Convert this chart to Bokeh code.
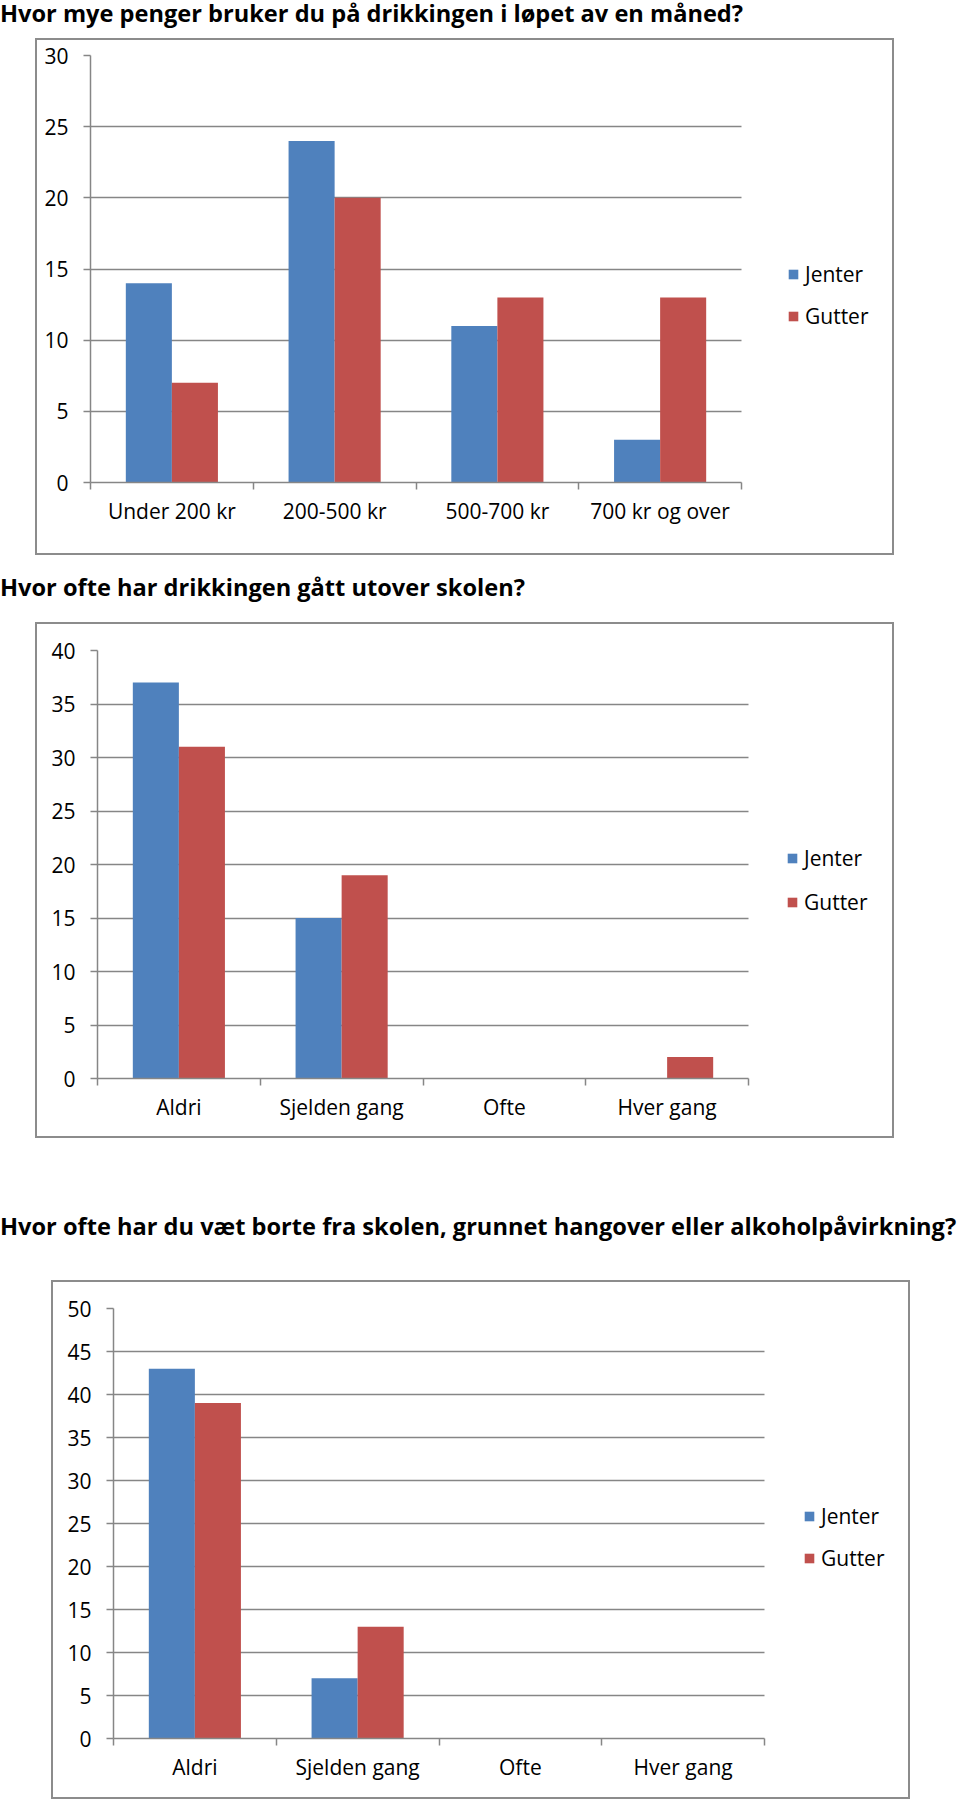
from bokeh.plotting import figure
from bokeh.models import (Range1d, LinearAxis, FixedTicker,
                          Legend, LegendItem, Div, ColumnDataSource)
from bokeh.layouts import column
from bokeh.transform import dodge
from bokeh.embed import file_html
from bokeh.resources import INLINE

# ---------------- data ----------------
title1 = "Hvor mye penger bruker du på drikkingen i løpet av en måned?"
cats1 = ["Under 200 kr", "200-500 kr", "500-700 kr", "700 kr og over"]
jenter1 = [14, 24, 11, 3]
gutter1 = [7, 20, 13, 13]
yticks1 = [0, 5, 10, 15, 20, 25, 30]

title2 = "Hvor ofte har drikkingen gått utover skolen?"
cats2 = ["Aldri", "Sjelden gang", "Ofte", "Hver gang"]
jenter2 = [37, 15, 0, 0]
gutter2 = [31, 19, 0, 2]
yticks2 = [0, 5, 10, 15, 20, 25, 30, 35, 40]

title3 = "Hvor ofte har du væt borte fra skolen, grunnet hangover eller alkoholpåvirkning?"
cats3 = ["Aldri", "Sjelden gang", "Ofte", "Hver gang"]
jenter3 = [43, 7, 0, 0]
gutter3 = [39, 13, 0, 0]
yticks3 = [0, 5, 10, 15, 20, 25, 30, 35, 40, 45, 50]

series = ["Jenter", "Gutter"]

# ---------------- style ----------------
BLUE = "#4F81BD"
RED = "#C0504D"
GRID = "#868686"
BOX = "#8c8c8c"
FONT = "Open Sans"
LABEL_SIZE = "21px"
TITLE_SIZE = "23.6px"
BAR_W = 0.283
PLOT_W = 651      # pixel width of the category area
LEFT_PANEL = 66   # room reserved for the y axis inside each figure
BOX_W = 855


def make_title(text, top_margin):
    return Div(
        text='<span style="font-family: \'Open Sans\'; font-weight: 700; font-size: ' + TITLE_SIZE +
             '; line-height: 27px; color: #000; white-space: nowrap;">' + text + '</span>',
        width=960, height=27, margin=(top_margin, 0, 0, 0),
        styles={"font-family": "'Open Sans'", "font-weight": "700", "font-size": TITLE_SIZE,
                "line-height": "27px", "white-space": "nowrap", "color": "#000"},
    )


def make_chart(cats, jenter, gutter, yticks, box_left, frame_left, box_h, bt, bb, top_margin,
               leg_loc, leg_spacing):
    n = len(cats)
    br = 2
    shift = box_left - (frame_left - LEFT_PANEL)
    w = BOX_W + shift
    frame_w = BOX_W - LEFT_PANEL - br   # the figure is held to the box width by its wrapper
    x_end = n * frame_w / PLOT_W
    centers = [i + 0.5 for i in range(n)]
    edges = list(range(n + 1))
    src = ColumnDataSource(dict(x=centers, cat=cats, Jenter=jenter, Gutter=gutter))
    p = figure(x_range=Range1d(0, x_end), y_range=Range1d(0, yticks[-1]),
               width=w, height=box_h, output_backend="svg", toolbar_location=None,
               x_axis_location=None, y_axis_location=None,
               min_border_left=LEFT_PANEL, min_border_right=br,
               min_border_top=bt, min_border_bottom=bb,
               margin=(0, 0, 0, -shift), background_fill_color="white")
    p.border_fill_alpha = 0
    p.outline_line_color = None

    # grid (horizontal lines limited to the category area)
    p.xgrid.visible = False
    grid_ok = True
    try:
        p.ygrid.cross_bounds = (0, n)
    except Exception:
        grid_ok = False
    if grid_ok:
        p.ygrid.ticker = FixedTicker(ticks=yticks)
        p.ygrid.grid_line_color = GRID
        p.ygrid.grid_line_width = 1.5
    else:
        p.ygrid.visible = False
        p.segment(x0=[0] * len(yticks), x1=[n] * len(yticks), y0=yticks, y1=yticks,
                  line_color=GRID, line_width=1.5)

    # y axis
    yaxis = LinearAxis(ticker=FixedTicker(ticks=yticks))
    yaxis.axis_line_color = GRID
    yaxis.axis_line_width = 1.5
    yaxis.major_tick_line_color = GRID
    yaxis.major_tick_line_width = 1.5
    yaxis.major_tick_out = 7
    yaxis.major_tick_in = 0
    yaxis.minor_tick_line_color = None
    yaxis.major_label_standoff = 15
    yaxis.major_label_text_font = FONT
    yaxis.major_label_text_font_size = LABEL_SIZE
    yaxis.major_label_text_color = "black"
    p.add_layout(yaxis, "left")

    # x axis: labels at category centres, tick marks at category boundaries
    xaxis = LinearAxis(ticker=FixedTicker(ticks=centers, minor_ticks=edges),
                       major_label_overrides={c: name for c, name in zip(centers, cats)},
                       bounds=(0, n))
    xaxis.axis_line_color = GRID
    xaxis.axis_line_width = 1.5
    xaxis.major_tick_line_color = None
    xaxis.major_tick_out = 0
    xaxis.major_tick_in = 0
    xaxis.minor_tick_line_color = GRID
    xaxis.minor_tick_line_width = 1.5
    xaxis.minor_tick_out = 7
    xaxis.minor_tick_in = 0
    xaxis.major_label_standoff = 7
    xaxis.major_label_text_font = FONT
    xaxis.major_label_text_font_size = LABEL_SIZE
    xaxis.major_label_text_color = "black"
    p.add_layout(xaxis, "below")

    rb = p.vbar(x=dodge("x", -BAR_W / 2), top="Jenter", width=BAR_W,
                source=src, fill_color=BLUE, line_color=None)
    rr = p.vbar(x=dodge("x", BAR_W / 2), top="Gutter", width=BAR_W,
                source=src, fill_color=RED, line_color=None)

    legend = Legend(items=[LegendItem(label=series[0], renderers=[rb]),
                           LegendItem(label=series[1], renderers=[rr])],
                    location=leg_loc)
    legend.glyph_width = 12
    legend.glyph_height = 12
    legend.label_height = 12
    legend.label_standoff = 6
    legend.spacing = leg_spacing
    legend.padding = 0
    legend.margin = 0
    legend.border_line_color = None
    legend.background_fill_alpha = 0
    legend.label_text_font = FONT
    legend.label_text_font_size = LABEL_SIZE
    legend.label_text_color = "black"
    p.add_layout(legend, "center")

    box = column(p, width=BOX_W, height=box_h, margin=(top_margin, 0, 0, box_left),
                 styles={"outline": "2px solid " + BOX})
    return box


d1 = make_title(title1, 0)
b1 = make_chart(cats1, jenter1, gutter1, yticks1, 37, 90, 513, 15, 71, 13, (697, 152), 14)
d2 = make_title(title2, 21)
b2 = make_chart(cats2, jenter2, gutter2, yticks2, 37, 97, 512, 26, 58, 23, (689, 162), 16)
d3 = make_title(title3, 77)
b3 = make_chart(cats3, jenter3, gutter3, yticks3, 53, 113, 515, 26, 59, 42, (690, 166), 14)

layout = column(d1, b1, d2, b2, d3, b3, spacing=0)

open("out.html", "w", encoding="utf-8").write(file_html(layout, INLINE))
